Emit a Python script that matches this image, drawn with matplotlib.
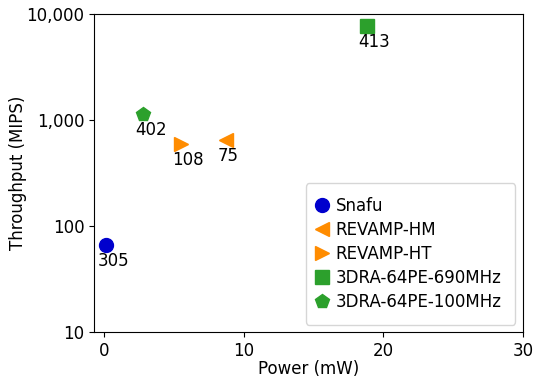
import matplotlib
matplotlib.use("Agg")
import matplotlib.pyplot as plt
from matplotlib.ticker import FuncFormatter, NullLocator, FixedLocator

names = ["Snafu", "REVAMP-HM", "REVAMP-HT", "3DRA-64PE-690MHz", "3DRA-64PE-100MHz"]
power = [0.17, 8.73, 5.49, 18.83, 2.81]
throughput = [66, 648, 594, 7740, 1132]
labels = ["305", "75", "108", "413", "402"]
markers = ["o", "<", ">", "s", "p"]
colors = ["mediumblue", "darkorange", "darkorange", "#2ca02c", "#2ca02c"]

plt.rcParams["font.size"] = 12

fig, ax = plt.subplots(figsize=(5.33, 3.81), dpi=100)

for n, x, y, lab, m, c in zip(names, power, throughput, labels, markers, colors):
    ax.plot(x, y, linestyle="none", marker=m, color=c, markersize=10, label=n)
    # label under each point
    ax.annotate(lab, (x, y), xytext=(-6, -5), textcoords="offset points",
                ha="left", va="top", fontsize=12)

ax.set_yscale("log")
ax.set_ylim(10, 10000)
ax.set_xlim(-0.69, 30)
ax.yaxis.set_major_locator(FixedLocator([10, 100, 1000, 10000]))
ax.yaxis.set_minor_locator(NullLocator())
ax.yaxis.set_major_formatter(FuncFormatter(lambda v, p: f"{int(v):,}"))
ax.set_xticks([0, 10, 20, 30])

ax.set_xlabel("Power (mW)", fontsize=12, labelpad=0)
ax.set_ylabel("Throughput (MIPS)", fontsize=12, labelpad=0)
ax.legend(loc="lower right", handletextpad=0.68, handlelength=0.31, borderpad=0.82,
          labelspacing=0.36, borderaxespad=0.45)

fig.subplots_adjust(left=0.177, right=0.981, top=0.963, bottom=0.1286)
fig.savefig("out.png", dpi=100)
